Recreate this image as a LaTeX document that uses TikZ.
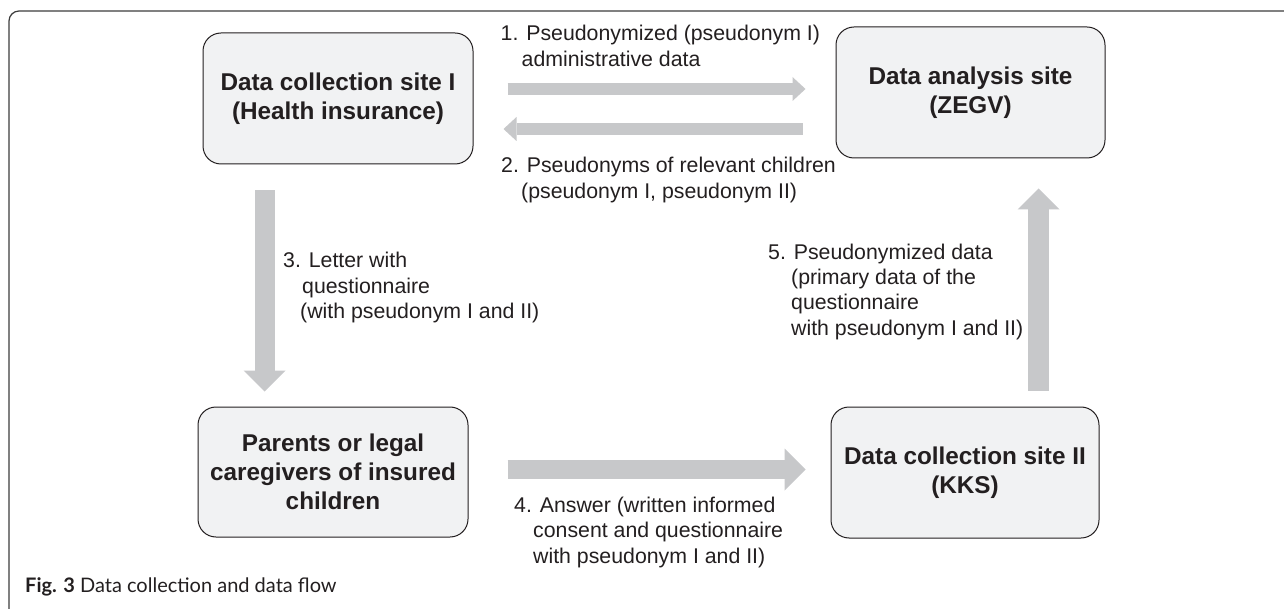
\documentclass[tikz,border=0pt]{standalone}
\usepackage{fontspec}
\setmainfont{Liberation Sans}
\newfontfamily\capfont{Lato}
\usetikzlibrary{arrows.meta}
\definecolor{arr}{HTML}{C7C8CA}
\definecolor{boxfill}{HTML}{F1F2F3}
\definecolor{ink}{HTML}{231F20}
\definecolor{framec}{HTML}{3C3C3C}
\begin{document}
\begin{tikzpicture}[x=1pt,y=-1pt,
  site/.style={draw=ink, line width=1pt, fill=boxfill, rounded corners=18pt,
    inner sep=0pt, align=center, text=ink,
    font=\fontsize{24.3}{29}\selectfont\bfseries},
  lbl/.style={anchor=base west, align=left, inner sep=0pt, text=ink,
    font=\fontsize{21.3}{25.5}\selectfont},
  thinarrow/.style={draw=arr, line width=12pt,
    -{Triangle[width=24pt,length=13pt,line width=0pt]}},
  thickarrow/.style={draw=arr, line width=20pt,
    -{Triangle[width=42pt,length=21pt,line width=0pt]}}
]
\useasboundingbox (0,0) rectangle (1284,609);
\fill[white] (0,0) rectangle (1284,609);
% outer frame
\draw[framec, line width=1.2pt, rounded corners=10pt] (9,609) -- (9,11) -- (1284,11);

% boxes
\node[site, minimum width=270pt, minimum height=131pt] (b1) at (338,98.5)
  {Data collection site I\\(Health insurance)};
\node[site, minimum width=269pt, minimum height=131pt] (zegv) at (970.5,92.5)
  {Data analysis site\\(ZEGV)};
\node[site, minimum width=270pt, minimum height=130pt] (par) at (333,472)
  {Parents or legal\\caregivers of insured\\children};
\node[site, minimum width=268pt, minimum height=131pt] (kks) at (965,472.5)
  {Data collection site II\\(KKS)};

% helper coordinates for arrow axes
\coordinate (ya) at (0,89);
\coordinate (yb) at (0,129);
\coordinate (yc) at (0,469.5);
\coordinate (xa) at (264.5,0);
\coordinate (xb) at (1038.5,0);

% arrows
\draw[thinarrow, shorten <=34pt, shorten >=30pt] (b1.east |- ya) -- (zegv.west |- ya);
\draw[thinarrow, shorten <=33pt, shorten >=30pt] (zegv.west |- yb) -- (b1.east |- yb);
\draw[thickarrow, shorten <=26pt, shorten >=15pt] (b1.south -| xa) -- (par.north -| xa);
\draw[thickarrow, line width=19pt, shorten <=39pt, shorten >=25pt] (par.east |- yc) -- (kks.west |- yc);
\draw[thickarrow, line width=21pt, shorten <=16pt, shorten >=30pt] (kks.north -| xb) -- (zegv.south -| xb);

% labels (anchored at the baseline of their last line)
\node[lbl] (l1) at (500.5,66.5) {1. Pseudonymized (pseudonym I)\\\hspace*{21pt}administrative data};
\node[lbl] (l2) at (501,198.5) {2. Pseudonyms of relevant children\\\hspace*{20pt}(pseudonym I, pseudonym II)};
\node[lbl] (l3) at (283,319) {3. Letter with\\\hspace*{19pt}questionnaire\\\hspace*{17pt}(with pseudonym I and II)};
\node[lbl] (l4) at (514,563) {4. Answer (written informed\\\hspace*{19pt}consent and questionnaire\\\hspace*{19pt}with pseudonym I and II)};
\node[lbl] (l5) at (768,335.5) {5. Pseudonymized data\\\hspace*{23pt}(primary data of the\\\hspace*{23pt}questionnaire\\\hspace*{23pt}with pseudonym I and II)};

% caption
\node[anchor=base west, inner sep=0pt, text=ink, font=\capfont\fontsize{20}{24}\selectfont] (cap) at (25,592)
  {{\bfseries Fig. 3} Data collection and data flow};
\end{tikzpicture}
\end{document}
